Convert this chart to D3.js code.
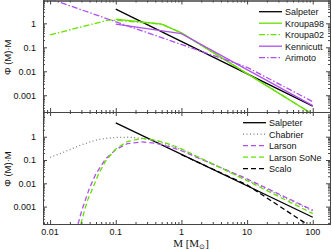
<!DOCTYPE html>
<html>
<head>
  <script src="https://d3js.org/d3.v7.min.js"></script>
  <style>
    body { margin: 0; background: #fff; }
    svg text { font-family: "Liberation Sans", Arial, sans-serif; }
  </style>
</head>
<body>
  <svg id="chart"></svg>
  <script>
    var width = 332, height = 250;

    // top panel
    var salpeterM = [0.1, 100];
    var salpeterV = [3.9, 3.5e-4];
    var kroupa98M = [0.1, 0.5, 1, 100];
    var kroupa98V = [1.5, 0.93, 0.40, 1.6e-4];
    var kroupa02M = [0.01, 0.08, 0.5, 1, 100];
    var kroupa02V = [0.33, 1.4, 0.93, 0.40, 1.6e-4];
    var kennicuttM = [0.1, 1, 100];
    var kennicuttV = [0.93, 0.37, 3.7e-4];
    var arimotoM = [0.01, 10, 100];
    var arimotoV = [10.4, 0.0147, 5.4e-4];

    // bottom panel
    var chabrierM = [0.01, 0.015, 0.02, 0.03, 0.05, 0.07, 0.1, 0.15, 0.2, 0.3, 0.5, 0.7, 1, 10, 100];
    var chabrierV = [0.13, 0.2, 0.28, 0.45, 0.72, 0.85, 0.93, 0.95, 0.9, 0.78, 0.55, 0.4, 0.28, 0.014, 6.5e-4];
    var larsonM = [0.0267, 0.03, 0.035, 0.04, 0.05, 0.07, 0.1, 0.15, 0.25, 0.4, 0.7, 1, 10, 100];
    var larsonV = [1.8e-4, 6e-4, 2.2e-3, 6.5e-3, 0.026, 0.11, 0.28, 0.5, 0.6, 0.53, 0.35, 0.25, 0.0155, 7e-4];
    var sonM = [0.0294, 0.033, 0.038, 0.045, 0.055, 0.07, 0.1, 0.15, 0.25, 0.4, 0.7, 1, 10, 100];
    var sonV = [1.8e-4, 6e-4, 2.2e-3, 6.5e-3, 0.026, 0.09, 0.3, 0.62, 0.85, 0.72, 0.45, 0.3, 0.013, 5e-4];
    var scaloM = [1, 10, 100];
    var scaloV = [0.17, 0.0085, 1.2e-4];

    var xTicks = [0.01, 0.1, 1, 10, 100];
    var xTickLabels = ["0.01", "0.1", "1", "10", "100"];
    var yTicks = [0.001, 0.01, 0.1, 1];
    var yTickLabels = ["0.001", "0.01", "0.1", "1"];

    var topLegend = ["Salpeter", "Kroupa98", "Kroupa02", "Kennicutt", "Arimoto"];
    var bottomLegend = ["Salpeter", "Chabrier", "Larson", "Larson SoNe", "Scalo"];

    var black = "#000", green = "#66e000", purple = "#b050ee", grey = "#808080";
    var dashDot = "6,2,1.5,2", dashed = "5,3", dotted = "1,2.5";

    var left = 43, right = 330;
    var x = d3.scaleLog().domain([0.0078, 183]).range([left, right]);
    var yTop = d3.scaleLog().domain([2e-4, 9.4]).range([112, 0]);
    var yBot = d3.scaleLog().domain([1.79e-4, 11.5]).range([224, 112]);

    var svg = d3.select("#chart").attr("width", width).attr("height", height);

    function minors(lo, hi) {
      var out = [];
      for (var e = -5; e <= 3; e++)
        for (var k = 2; k <= 9; k++) {
          var v = k * Math.pow(10, e);
          if (v > lo && v < hi) out.push(v);
        }
      return out;
    }

    function panel(y, top, bottom, clipId, series, legend, legX, legY) {
      var g = svg.append("g");
      g.append("clipPath").attr("id", clipId).append("rect")
        .attr("x", left).attr("y", top).attr("width", right - left).attr("height", bottom - top);

      var line = d3.line().x(function(d) { return x(d[0]); }).y(function(d) { return y(d[1]); });
      var plot = g.append("g").attr("clip-path", "url(#" + clipId + ")");
      series.slice().sort(function(a, b) { return a.z - b.z; }).forEach(function(s) {
        plot.append("path")
          .datum(d3.zip(s.m, s.v))
          .attr("d", line)
          .attr("fill", "none")
          .attr("stroke", s.color)
          .attr("stroke-width", 1.3)
          .attr("stroke-dasharray", s.dash);
      });

      var ax = "#444";
      var yMin = minors(y.domain()[0], y.domain()[1]);
      var xMin = minors(x.domain()[0], x.domain()[1]);
      [[d3.axisLeft, left], [d3.axisRight, right]].forEach(function(a, i) {
        var gM = g.append("g").attr("transform", "translate(" + a[1] + ",0)")
          .call(a[0](y).tickValues(yMin).tickSize(-2).tickSizeOuter(0).tickFormat(""));
        var gJ = g.append("g").attr("transform", "translate(" + a[1] + ",0)")
          .call(a[0](y).tickValues(yTicks).tickSize(-4).tickSizeOuter(0)
            .tickPadding(i == 0 ? 7 : 0)
            .tickFormat(function(d, j) { return i == 0 ? yTickLabels[j] : ""; }));
        [gM, gJ].forEach(function(gg) {
          gg.select(".domain").attr("stroke", ax);
          gg.selectAll("line").attr("stroke", ax);
          gg.selectAll("text").attr("font-size", 9).attr("fill", "#111");
        });
      });
      [[d3.axisBottom, bottom], [d3.axisTop, top]].forEach(function(a) {
        var gM = g.append("g").attr("transform", "translate(0," + a[1] + ")")
          .call(a[0](x).tickValues(xMin).tickSize(-2).tickSizeOuter(0).tickFormat(""));
        var gJ = g.append("g").attr("transform", "translate(0," + a[1] + ")")
          .call(a[0](x).tickValues(xTicks).tickSize(-4).tickSizeOuter(0).tickFormat(""));
        [gM, gJ].forEach(function(gg) {
          gg.select(".domain").attr("stroke", ax);
          gg.selectAll("line").attr("stroke", ax);
        });
      });

      g.append("text")
        .attr("transform", "translate(11," + ((top + bottom) / 2 + 1) + ") rotate(-90)")
        .attr("text-anchor", "middle")
        .attr("font-size", 9.5)
        .attr("fill", "#111")
        .text("Φ (M)·M");

      var lg = g.append("g");
      legend.forEach(function(name, i) {
        var s = series[i];
        var yy = legY + i * 11.5;
        lg.append("line").attr("x1", legX).attr("x2", legX + 23).attr("y1", yy).attr("y2", yy)
          .attr("stroke", s.color).attr("stroke-width", 1.3).attr("stroke-dasharray", s.dash);
        lg.append("text").attr("x", legX + 26).attr("y", yy + 3.3)
          .attr("font-size", 9).attr("fill", "#111").text(name);
      });
    }

    // z: drawing order (Kroupa02 goes under Kroupa98 where they coincide)
    panel(yTop, 0.5, 112, "clipTop", [
      { m: salpeterM, v: salpeterV, color: black, dash: null, z: 0 },
      { m: kroupa98M, v: kroupa98V, color: green, dash: null, z: 2 },
      { m: kroupa02M, v: kroupa02V, color: green, dash: dashDot, z: 1 },
      { m: kennicuttM, v: kennicuttV, color: purple, dash: null, z: 3 },
      { m: arimotoM, v: arimotoV, color: purple, dash: dashDot, z: 4 }
    ], topLegend, 259, 11.7);

    panel(yBot, 112, 224, "clipBot", [
      { m: salpeterM, v: salpeterV, color: black, dash: null, z: 0 },
      { m: chabrierM, v: chabrierV, color: grey, dash: dotted, z: 1 },
      { m: larsonM, v: larsonV, color: purple, dash: dashed, z: 2 },
      { m: sonM, v: sonV, color: green, dash: dashed, z: 3 },
      { m: scaloM, v: scaloV, color: black, dash: dashed, z: 4 }
    ], bottomLegend, 243, 122.7);

    // x tick labels below the bottom panel
    svg.append("g").selectAll("text").data(xTicks).enter().append("text")
      .attr("x", function(d) { return x(d); })
      .attr("y", 235)
      .attr("text-anchor", "middle")
      .attr("font-size", 9)
      .attr("fill", "#111")
      .text(function(d, i) { return xTickLabels[i]; });

    var xl = svg.append("text")
      .attr("x", 191).attr("y", 247)
      .attr("text-anchor", "middle")
      .attr("font-size", 11)
      .attr("fill", "#111")
      .style("font-family", "'Liberation Serif', 'Times New Roman', serif");
    xl.append("tspan").text("M [M");
    xl.append("tspan").attr("font-size", 7).attr("dy", 2).text("⊙");
    xl.append("tspan").attr("dy", -2).text("]");
  </script>
</body>
</html>
